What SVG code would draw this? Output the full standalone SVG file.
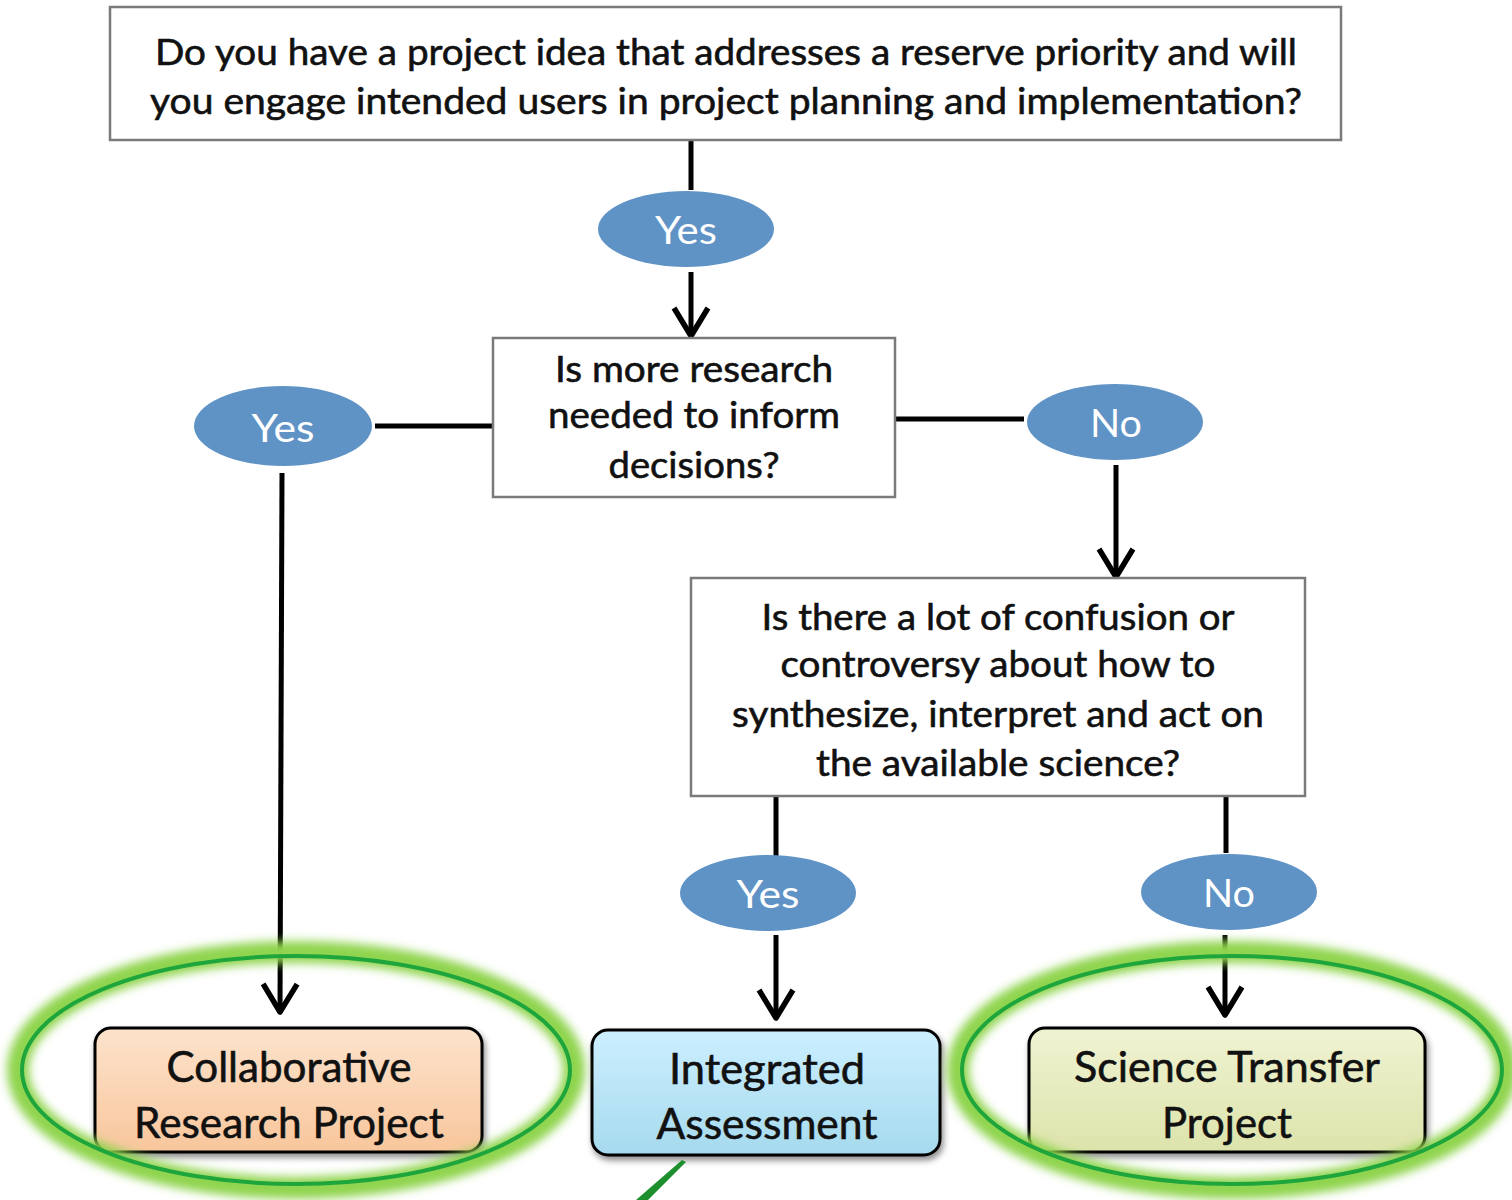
<svg xmlns="http://www.w3.org/2000/svg" width="1512" height="1200" viewBox="0 0 1512 1200">
<style>
.q{fill:#fff;stroke:#7a7a7a;stroke-width:2.5}
.t{font-family:Lato,"Liberation Sans",sans-serif;fill:#111;stroke:#111;stroke-width:0.6;text-anchor:middle}
.qt{font-size:37px}
.bt{font-size:43px}
.oval{fill:#5f93c6}
.ot{font-family:Lato,"Liberation Sans",sans-serif;fill:#fff;font-size:38px;text-anchor:middle}
.c{stroke:#000;stroke-width:5;fill:none}
.ca{stroke:#000;stroke-width:5;fill:none;marker-end:url(#ah)}
.res{stroke:#000;stroke-width:3}
.glow{fill:none;stroke:#8fd44e;stroke-width:22;filter:url(#blur)}
.ring{fill:none;stroke:#1ea63c;stroke-width:4}
</style>
<defs>
<marker id="ah" markerUnits="userSpaceOnUse" viewBox="-34 -22 40 44" refX="0" refY="0" markerWidth="40" markerHeight="44" orient="auto">
<path d="M-28,-17 L0,0 L-28,17" fill="none" stroke="#000" stroke-width="5.5" stroke-linejoin="round"/>
</marker>
<filter id="blur" x="-10%" y="-20%" width="120%" height="140%"><feGaussianBlur stdDeviation="5"/></filter>
<filter id="sh" x="-5%" y="-10%" width="115%" height="130%"><feDropShadow dx="2" dy="4" stdDeviation="3" flood-color="#000" flood-opacity="0.45"/></filter>
<linearGradient id="gP" x1="0" y1="0" x2="0" y2="1"><stop offset="0" stop-color="#fde3cc"/><stop offset="1" stop-color="#f8c69c"/></linearGradient>
<linearGradient id="gB" x1="0" y1="0" x2="0" y2="1"><stop offset="0" stop-color="#ccefff"/><stop offset="1" stop-color="#a6daee"/></linearGradient>
<linearGradient id="gG" x1="0" y1="0" x2="0" y2="1"><stop offset="0" stop-color="#f0f3d2"/><stop offset="1" stop-color="#dde3ab"/></linearGradient>
</defs>
<rect width="1512" height="1200" fill="#fff"/>

<g id="connectors">
<line class="c" x1="691" y1="141" x2="691" y2="190"/>
<line class="ca" x1="691" y1="272" x2="691" y2="336"/>
<line class="c" x1="375" y1="426" x2="493" y2="426"/>
<line class="c" x1="895" y1="419" x2="1024" y2="419"/>
<line class="ca" x1="1116" y1="465" x2="1116" y2="577"/>
<line class="ca" x1="282" y1="473" x2="280" y2="1012"/>
<line class="c" x1="776" y1="796" x2="776" y2="856"/>
<line class="ca" x1="776" y1="935" x2="776" y2="1018"/>
<line class="c" x1="1226" y1="796" x2="1226" y2="853"/>
<line class="ca" x1="1225" y1="935" x2="1225" y2="1015"/>
</g>

<g id="q1">
<rect class="q" x="110" y="7" width="1231" height="133"/>
<text class="t qt" x="726" y="65" textLength="1142" lengthAdjust="spacingAndGlyphs">Do you have a project idea that addresses a reserve priority and will</text>
<text class="t qt" x="726" y="114" textLength="1152" lengthAdjust="spacingAndGlyphs">you engage intended users in project planning and implementation?</text>
</g>

<g id="yes1">
<ellipse class="oval" cx="686" cy="229" rx="88" ry="38"/>
<text class="ot" x="686" y="244" textLength="62" lengthAdjust="spacingAndGlyphs">Yes</text>
</g>

<g id="q2">
<rect class="q" x="493" y="338" width="402" height="159"/>
<text class="t qt" x="694" y="382" textLength="278" lengthAdjust="spacingAndGlyphs">Is more research</text>
<text class="t qt" x="694" y="428" textLength="292" lengthAdjust="spacingAndGlyphs">needed to inform</text>
<text class="t qt" x="694" y="478" textLength="171" lengthAdjust="spacingAndGlyphs">decisions?</text>
</g>

<g id="yes2">
<ellipse class="oval" cx="283" cy="426" rx="89" ry="40"/>
<text class="ot" x="283" y="442" textLength="63" lengthAdjust="spacingAndGlyphs">Yes</text>
</g>

<g id="no1">
<ellipse class="oval" cx="1115" cy="422" rx="88" ry="38"/>
<text class="ot" x="1116" y="437" textLength="52" lengthAdjust="spacingAndGlyphs">No</text>
</g>

<g id="q3">
<rect class="q" x="691" y="578" width="614" height="218"/>
<text class="t qt" x="998" y="630" textLength="473" lengthAdjust="spacingAndGlyphs">Is there a lot of confusion or</text>
<text class="t qt" x="998" y="677" textLength="435" lengthAdjust="spacingAndGlyphs">controversy about how to</text>
<text class="t qt" x="998" y="727" textLength="532" lengthAdjust="spacingAndGlyphs">synthesize, interpret and act on</text>
<text class="t qt" x="998" y="776" textLength="364" lengthAdjust="spacingAndGlyphs">the available science?</text>
</g>

<g id="yes3">
<ellipse class="oval" cx="768" cy="893" rx="88" ry="38"/>
<text class="ot" x="768" y="908" textLength="63" lengthAdjust="spacingAndGlyphs">Yes</text>
</g>

<g id="no2">
<ellipse class="oval" cx="1229" cy="892" rx="88" ry="38"/>
<text class="ot" x="1229" y="907" textLength="52" lengthAdjust="spacingAndGlyphs">No</text>
</g>

<g id="collab">
<rect class="res" x="95" y="1028" width="387" height="124" rx="16" fill="url(#gP)" filter="url(#sh)"/>
<text class="t bt" x="289" y="1082" textLength="245" lengthAdjust="spacingAndGlyphs">Collaborative</text>
<text class="t bt" x="289" y="1138" textLength="310" lengthAdjust="spacingAndGlyphs">Research Project</text>
</g>

<g id="integrated">
<rect class="res" x="592" y="1030" width="348" height="125" rx="16" fill="url(#gB)" filter="url(#sh)"/>
<text class="t bt" x="767" y="1084" textLength="196" lengthAdjust="spacingAndGlyphs">Integrated</text>
<text class="t bt" x="767" y="1139" textLength="221" lengthAdjust="spacingAndGlyphs">Assessment</text>
</g>

<g id="transfer">
<rect class="res" x="1029" y="1028" width="396" height="124" rx="16" fill="url(#gG)" filter="url(#sh)"/>
<text class="t bt" x="1227" y="1082" textLength="306" lengthAdjust="spacingAndGlyphs">Science Transfer</text>
<text class="t bt" x="1227" y="1138" textLength="130" lengthAdjust="spacingAndGlyphs">Project</text>
</g>

<g id="highlight-left">
<ellipse class="glow" cx="296" cy="1070" rx="278" ry="118"/>
<ellipse class="ring" cx="296" cy="1070" rx="274" ry="114"/>
</g>

<g id="highlight-right">
<ellipse class="glow" cx="1232" cy="1070" rx="274" ry="118"/>
<ellipse class="ring" cx="1232" cy="1070" rx="270" ry="114"/>
</g>

<path d="M682,1160 L686,1162 L648,1200 L636,1200 Z" fill="#1e8f2e"/>
</svg>
